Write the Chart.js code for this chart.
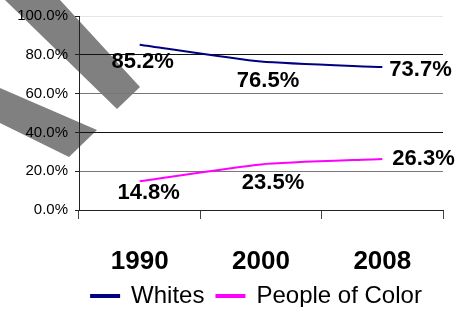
<!DOCTYPE html>
<html>
<head>
<meta charset="utf-8">
<script src="https://cdn.jsdelivr.net/npm/chart.js@4/dist/chart.umd.min.js"></script>
<style>
  html, body { margin: 0; padding: 0; background: #fff; }
  #wrap { width: 460px; height: 309px; }
</style>
</head>
<body>
<div id="wrap"><canvas id="chart"></canvas></div>
<script>
// data
const years = ['1990', '2000', '2008'];
const whites = [85.2, 76.5, 73.7];
const peopleOfColor = [14.8, 23.5, 26.3];
const yTicks = [0, 20, 40, 60, 80, 100];

// label placement (dx, dy, align) per point
const labelPos = [
    [[3, 17, 'center'], [7, 19, 'center'], [7, 3, 'left']],
    [[9, 12, 'center'], [12, 19, 'center'], [10, 0, 'left']]
];

const gridColors = ['#333', '#777', '#111', '#777', '#111', '#e6e6e6'];

// grey stripes behind the chart
const stripes = {
    id: 'stripes',
    beforeDraw(chart) {
        const ctx = chart.ctx;
        ctx.save();
        ctx.fillStyle = '#808080';
        ctx.beginPath();
        ctx.moveTo(5, 0); ctx.lineTo(60, 0); ctx.lineTo(140, 87); ctx.lineTo(117, 109);
        ctx.closePath();
        ctx.fill();
        ctx.beginPath();
        ctx.moveTo(0, 88); ctx.lineTo(97, 130); ctx.lineTo(69, 157); ctx.lineTo(0, 123);
        ctx.closePath();
        ctx.fill();
        ctx.restore();
    }
};

// centre the legend under the plot like the original
const legendShift = {
    id: 'legendShift',
    afterLayout(chart) {
        const lg = chart.legend;
        lg.left = 70;
        lg.right = 443;
        lg.adjustHitBoxes();
    }
};

const valueLabels = {
    id: 'valueLabels',
    afterDatasetsDraw(chart) {
        const ctx = chart.ctx;
        ctx.save();
        ctx.font = 'bold 22px "Liberation Sans", Arial, sans-serif';
        ctx.fillStyle = '#000';
        ctx.textBaseline = 'middle';
        chart.data.datasets.forEach(function (ds, i) {
            chart.getDatasetMeta(i).data.forEach(function (pt, j) {
                const p = labelPos[i][j];
                ctx.textAlign = p[2];
                ctx.fillText(ds.data[j].toFixed(1) + '%', pt.x + p[0], pt.y + p[1]);
            });
        });
        ctx.restore();
    }
};

new Chart(document.getElementById('chart'), {
    type: 'line',
    data: {
        labels: years,
        datasets: [{
            label: 'Whites',
            data: whites,
            borderColor: '#000080',
            backgroundColor: '#000080',
            borderWidth: 2,
            pointRadius: 0,
            tension: 0.2
        }, {
            label: 'People of Color',
            data: peopleOfColor,
            borderColor: '#ff00ff',
            backgroundColor: '#ff00ff',
            borderWidth: 2,
            pointRadius: 0,
            tension: 0.2
        }]
    },
    options: {
        responsive: true,
        maintainAspectRatio: false,
        animation: false,
        layout: { padding: { left: 17, right: 17, top: 16, bottom: 2 } },
        plugins: {
            tooltip: { enabled: false },
            legend: {
                position: 'bottom',
                maxHeight: 35,
                labels: {
                    boxWidth: 28,
                    boxHeight: 2,
                    padding: 12,
                    color: '#000',
                    font: { family: '"Liberation Sans", Arial, sans-serif', size: 24 }
                }
            }
        },
        scales: {
            x: {
                offset: true,
                afterFit(scale) { scale.height = 62; },
                grid: {
                    offset: true,
                    drawOnChartArea: false,
                    tickLength: 9,
                    color: '#444'
                },
                border: { color: '#222', width: 1 },
                ticks: {
                    padding: 27,
                    color: '#000',
                    font: { family: '"Liberation Sans", Arial, sans-serif', size: 26, weight: 'bold' }
                }
            },
            y: {
                min: 0,
                max: 100,
                afterFit(scale) { scale.width = 62; },
                afterBuildTicks(scale) { scale.ticks = yTicks.map(v => ({ value: v })); },
                grid: {
                    color: ctx => gridColors[ctx.index] || '#444',
                    tickColor: '#222',
                    tickLength: 4
                },
                border: { color: '#222', width: 1 },
                ticks: {
                    padding: 7,
                    color: '#000',
                    font: { family: '"Liberation Sans", Arial, sans-serif', size: 15 },
                    callback: v => v.toFixed(1) + '%'
                }
            }
        }
    },
    plugins: [stripes, legendShift, valueLabels]
});
</script>
</body>
</html>
